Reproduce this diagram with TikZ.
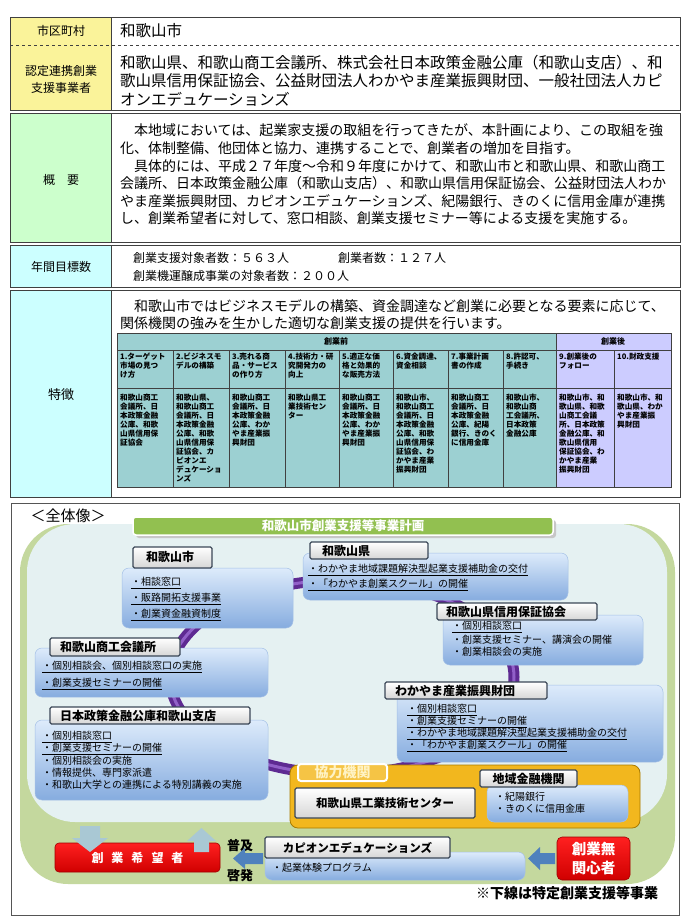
\documentclass[tikz,border=0pt]{standalone}
\usepackage{fontspec}
\setmainfont{Noto Sans CJK JP}
\definecolor{tyellow}{HTML}{FAF39A}
\definecolor{tgreen}{HTML}{CCFFCC}
\definecolor{tcyan}{HTML}{CCFFFF}
\definecolor{tgrid}{HTML}{404040}
\definecolor{cteal}{HTML}{9CD0D2}
\definecolor{clav}{HTML}{CCCCFF}
\definecolor{gregion}{HTML}{C4D89E}
\definecolor{pale}{HTML}{E5F1F2}
\definecolor{tbar}{HTML}{92C050}
\definecolor{ringc}{HTML}{5E2A92}
\definecolor{ringh}{HTML}{9160C8}
\definecolor{boxtop}{HTML}{DDEBFB}
\definecolor{boxbot}{HTML}{86ACDF}
\definecolor{boxedge}{HTML}{A4C0E6}
\definecolor{lblline}{HTML}{3B4757}
\definecolor{lblbot}{HTML}{D6D6D6}
\definecolor{gold}{HTML}{F2B71E}
\definecolor{golddk}{HTML}{A87A00}
\definecolor{goldlb}{HTML}{F5C445}
\definecolor{goldtxt}{HTML}{FFF3C4}
\definecolor{redtop}{HTML}{FF2020}
\definecolor{redbot}{HTML}{D00000}
\definecolor{reddk}{HTML}{A00000}
\definecolor{darr}{HTML}{4F81BD}
\definecolor{larr}{HTML}{A9C8D4}
\definecolor{framec}{HTML}{555555}
\newcommand{\fs}[2]{\fontsize{#1}{#2}\selectfont}
\newcommand{\bx}[7][]{\node[#3,anchor=north west,minimum width={(#6-#4)*1pt},minimum height={(#7-#5)*1pt},inner sep=0pt,outer sep=0pt,#1] (#2) at (#4,#5) {};}
\tikzset{
  cell/.style={draw=tgrid,line width=0.9pt},
  plainbox/.style={},
  txt/.style={inner sep=0pt,outer sep=0pt,text=black},
  cbox/.style={rounded corners=7pt,top color=boxtop,bottom color=boxbot,draw=boxedge,line width=0.5pt},
  lbl/.style={rounded corners=1.5pt,top color=white,bottom color=lblbot,draw=lblline,line width=1.3pt},
  lbltxt/.style={inner sep=0pt,anchor=west,font=\fs{12}{14}\bfseries},
  item/.style={inner sep=0pt,anchor=west,font=\fs{10}{12}},
  rbox/.style={rounded corners=4pt,top color=redtop,bottom color=redbot,draw=reddk,line width=0.6pt},
  tiny/.style={inner sep=0pt,anchor=north west,align=left,font=\fs{7.6}{9}\bfseries},
}
\begin{document}
\begin{tikzpicture}[x=1pt,y=-1pt]
\useasboundingbox (0,0) rectangle (690,920);
\fill[white] (0,0) rectangle (690,920);

% ---------- top table ----------
\bx[fill=tyellow]{aL}{cell}{10}{17}{111}{110}
\bx{aR}{cell}{111}{17}{680}{110}
\draw[dashed,tgrid,line width=0.5pt] (aL.west |- 0,45) -- (aR.east |- 0,45);
\node[txt,font=\fs{12}{15}] (a1) at (61,31) {市区町村};
\node[txt,font=\fs{12}{17},align=center] (a2) at (61,79) {認定連携創業\\支援事業者};
\node[txt,font=\fs{15.5}{18.5},anchor=west] (a3) at (120,31) {和歌山市};
\node[txt,font=\fs{15.5}{18.5},anchor=north west,align=left] (a4) at (120,55) {和歌山県、和歌山商工会議所、株式会社日本政策金融公庫（和歌山支店）、和\\歌山県信用保証協会、公益財団法人わかやま産業振興財団、一般社団法人カピ\\オンエデュケーションズ};

\bx[fill=tgreen]{bL}{cell}{10}{113}{111}{242}
\bx{bR}{cell}{111}{113}{680}{242}
\node[txt,font=\fs{12}{15}] (b1) at (61,180) {概　要};
\node[txt,font=\fs{14}{17.6},anchor=north west,align=left] (b2) at (120,124) {　本地域においては、起業家支援の取組を行ってきたが、本計画により、この取組を強\\化、体制整備、他団体と協力、連携することで、創業者の増加を目指す。\\　具体的には、平成２７年度～令和９年度にかけて、和歌山市と和歌山県、和歌山商工\\会議所、日本政策金融公庫（和歌山支店）、和歌山県信用保証協会、公益財団法人わか\\やま産業振興財団、カピオンエデュケーションズ、紀陽銀行、きのくに信用金庫が連携\\し、創業希望者に対して、窓口相談、創業支援セミナー等による支援を実施する。};

\bx[fill=tcyan]{cL}{cell}{10}{245}{111}{287}
\bx{cR}{cell}{111}{245}{680}{287}
\node[txt,font=\fs{12}{15}] (c1) at (61,267) {年間目標数};
\node[txt,font=\fs{12}{15},anchor=west] (c2) at (133,258) {創業支援対象者数：５６３人};
\node[txt,font=\fs{12}{15},anchor=west] (c3) at (338,258) {創業者数：１２７人};
\node[txt,font=\fs{12}{15},anchor=west] (c4) at (133,276) {創業機運醸成事業の対象者数：２００人};

\bx[fill=tcyan]{dL}{cell}{10}{290}{111}{497}
\bx{dR}{cell}{111}{290}{680}{497}
\node[txt,font=\fs{13}{15}] (d1) at (61,395) {特徴};
\node[txt,font=\fs{14}{17},anchor=west] (d2) at (120,306) {　和歌山市ではビジネスモデルの構築、資金調達など創業に必要となる要素に応じて、};
\node[txt,font=\fs{14}{17},anchor=west] (d3) at (120,323) {関係機関の強みを生かした適切な創業支援の提供を行います。};

% inner table
\fill[cteal] (117,333) rectangle (556,487);
\fill[clav] (556,333) rectangle (671,487);
\draw[tgrid,line width=0.8pt] (117,333) rectangle (671,487);
\draw[tgrid,line width=0.8pt] (117,350) -- (671,350) (117,388) -- (671,388) (556,333) -- (556,487);
\foreach \xx in {173,229,285,339,393,448,503,614} \draw[tgrid,line width=0.8pt] (\xx,350) -- (\xx,487);
\node[txt,font=\fs{8}{9}\bfseries] (h1) at (336,341) {創業前};
\node[txt,font=\fs{8}{9}\bfseries] (h2) at (613,341) {創業後};

\node[tiny] (t1) at (120,353) {1.ターゲット\\市場の見つ\\け方};
\node[tiny] (t2) at (176,353) {2.ビジネスモ\\デルの構築};
\node[tiny] (t3) at (232,353) {3.売れる商\\品・サービス\\の作り方};
\node[tiny] (t4) at (288,353) {4.技術力・研\\究開発力の\\向上};
\node[tiny] (t5) at (342,353) {5.適正な価\\格と効果的\\な販売方法};
\node[tiny] (t6) at (396,353) {6.資金調達、\\資金相談};
\node[tiny] (t7) at (451,353) {7.事業計画\\書の作成};
\node[tiny] (t8) at (506,353) {8.許認可、\\手続き};
\node[tiny] (t9) at (559,353) {9.創業後の\\フォロー};
\node[tiny] (t10) at (617,353) {10.財政支援};

\node[tiny] (g1) at (120,394) {和歌山商工\\会議所、日\\本政策金融\\公庫、和歌\\山県信用保\\証協会};
\node[tiny] (g2) at (176,394) {和歌山県、\\和歌山商工\\会議所、日\\本政策金融\\公庫、和歌\\山県信用保\\証協会、カ\\ピオンエ\\デュケーショ\\ンズ};
\node[tiny] (g3) at (232,394) {和歌山商工\\会議所、日\\本政策金融\\公庫、わか\\やま産業振\\興財団};
\node[tiny] (g4) at (288,394) {和歌山県工\\業技術セン\\ター};
\node[tiny] (g5) at (342,394) {和歌山商工\\会議所、日\\本政策金融\\公庫、わか\\やま産業振\\興財団};
\node[tiny] (g6) at (396,394) {和歌山市、\\和歌山商工\\会議所、日\\本政策金融\\公庫、和歌\\山県信用保\\証協会、わ\\かやま産業\\振興財団};
\node[tiny] (g7) at (451,394) {和歌山商工\\会議所、日\\本政策金融\\公庫、紀陽\\銀行、きのく\\に信用金庫};
\node[tiny] (g8) at (506,394) {和歌山市、\\和歌山商\\工会議所、\\日本政策\\金融公庫};
\node[tiny] (g9) at (559,394) {和歌山市、和\\歌山県、和歌\\山商工会議\\所、日本政策\\金融公庫、和\\歌山県信用\\保証協会、わ\\かやま産業\\振興財団};
\node[tiny] (g10) at (617,394) {和歌山市、和\\歌山県、わか\\やま産業振\\興財団};

% ---------- overall picture ----------
\bx[draw=framec,line width=0.7pt]{frame}{plainbox}{11}{503}{679}{915}
\node[txt,font=\fs{15}{17}] (zt) at (68,516) {＜全体像＞};

\bx[fill=gregion,rounded corners=48pt]{greg}{plainbox}{20}{524}{675}{884}
\bx[fill=pale,rounded corners=48pt]{preg}{plainbox}{27}{524}{667}{822}

\bx[fill=black!22,rounded corners=3pt]{tbs}{plainbox}{136}{520}{556}{538}
\bx[fill=tbar,draw=white,line width=1.5pt,rounded corners=3pt]{tb}{plainbox}{133}{517}{553}{535}
\node[txt,text=white,font=\fs{12.5}{14}\bfseries] (tbt) at (tb.center) {和歌山市創業支援等事業計画};

% ring
\draw[ringc,line width=11pt] (342,677) ellipse [x radius=172pt, y radius=97pt];
\draw[ringh,line width=3pt] (342,677) ellipse [x radius=172pt, y radius=97pt];

% 和歌山市
\bx{c1b}{cbox}{122}{568}{293}{628}
\bx{l1b}{lbl}{133}{547}{212}{568}
\node[lbltxt] (l1t) at (146,557) {和歌山市};
\node[item] (i11) at (131,583) {\underline{・相談窓口}};
\node[item] (i12) at (131,599) {\underline{・販路開拓支援事業}};
\node[item] (i13) at (131,615) {\underline{・創業資金融資制度}};

% 和歌山県
\bx{c2b}{cbox}{303}{553}{568}{600}
\bx{l2b}{lbl}{310}{542}{428}{559}
\node[lbltxt] (l2t) at (322,550.5) {和歌山県};
\node[item] (i21) at (308,570) {\underline{・わかやま地域課題解決型起業支援補助金の交付}};
\node[item] (i22) at (308,585) {\underline{・「わかやま創業スクール」の開催}};

% 和歌山県信用保証協会
\bx{c3b}{cbox}{443}{615}{643}{665}
\bx{l3b}{lbl}{437}{603}{597}{620}
\node[lbltxt] (l3t) at (446,611.5) {和歌山県信用保証協会};
\node[item] (i31) at (452,627) {\underline{・個別相談窓口}};
\node[item] (i32) at (452,639.5) {・創業支援セミナー、講演会の開催};
\node[item] (i33) at (452,652) {・創業相談会の実施};

% 和歌山商工会議所
\bx{c4b}{cbox}{35}{648}{268}{697}
\bx{l4b}{lbl}{50}{638}{180}{656}
\node[lbltxt] (l4t) at (60,647) {和歌山商工会議所};
\node[item] (i41) at (42,667) {\underline{・個別相談会、個別相談窓口の実施}};
\node[item] (i42) at (42,684) {\underline{・創業支援セミナーの開催}};

% 日本政策金融公庫和歌山支店
\bx{c5b}{cbox}{35}{720}{268}{800}
\bx{l5b}{lbl}{50}{707}{250}{724}
\node[lbltxt] (l5t) at (60,715.5) {日本政策金融公庫和歌山支店};
\node[item] (i51) at (42,737) {\underline{・個別相談窓口}};
\node[item] (i52) at (42,749) {\underline{・創業支援セミナーの開催}};
\node[item] (i53) at (42,761) {・個別相談会の実施};
\node[item] (i54) at (42,773) {・情報提供、専門家派遣};
\node[item] (i55) at (42,785) {・和歌山大学との連携による特別講義の実施};

% わかやま産業振興財団
\bx{c6b}{cbox}{397}{685}{663}{762}
\bx{l6b}{lbl}{385}{682}{547}{699}
\node[lbltxt] (l6t) at (395,690.5) {わかやま産業振興財団};
\node[item] (i61) at (407,710) {\underline{・個別相談窓口}};
\node[item] (i62) at (407,722) {\underline{・創業支援セミナーの開催}};
\node[item] (i63) at (407,734) {\underline{・わかやま地域課題解決型起業支援補助金の交付}};
\node[item] (i64) at (407,746) {\underline{・「わかやま創業スクール」の開催}};

% 協力機関
\bx[fill=gold,draw=golddk,line width=0.8pt,rounded corners=8pt]{kb}{plainbox}{290}{765}{640}{828}
\bx[fill=goldlb,draw=white,line width=2pt,rounded corners=3pt]{kl}{plainbox}{298}{764}{387}{781}
\node[txt,text=goldtxt,font=\fs{14}{16}\bfseries] (klt) at (kl.center) {協力機関};
\bx{kc}{lbl}{295}{788}{475}{818}
\node[txt,font=\fs{11.5}{14}\bfseries] (kct) at (kc.center) {和歌山県工業技術センター};
\bx{kfb}{cbox}{487}{785}{628}{822}
\bx{kfl}{lbl}{480}{770}{577}{787}
\node[txt,font=\fs{12}{14}\bfseries] (kflt) at (kfl.center) {地域金融機関};
\node[item] (kf1) at (495,797) {・紀陽銀行};
\node[item] (kf2) at (495,809) {・きのくに信用金庫};

% bottom band
\bx{rb1}{rbox}{55}{843}{220}{872}
\node[txt,text=white,font=\fs{12}{14}\bfseries] (rb1t) at (rb1.center) {創\hspace{8pt}業\hspace{8pt}希\hspace{8pt}望\hspace{8pt}者};
\fill[larr] (80,826) -- (100,826) -- (100,838) -- (108,838) -- (90,852) -- (72,838) -- (80,838) -- cycle;
\fill[larr] (194,852) -- (209,852) -- (209,841) -- (216,841) -- (201.5,828) -- (187,841) -- (194,841) -- cycle;
\node[txt,font=\fs{13}{15}\bfseries] (fk1) at (240,846) {普及};
\node[txt,font=\fs{13}{15}\bfseries] (fk2) at (240,876) {啓発};
\fill[darr] (233,858.5) -- (245,848) -- (245,853) -- (263,853) -- (263,864) -- (245,864) -- (245,869) -- cycle;

\bx{cpb}{cbox}{265}{852}{525}{880}
\bx{cpl}{lbl}{265}{837}{450}{858}
\node[txt,font=\fs{11.5}{14}\bfseries] (cplt) at (cpl.center) {カピオンエデュケーションズ};
\node[item] (cp1) at (272,868) {・起業体験プログラム};
\fill[darr] (528,858.5) -- (540,847) -- (540,853) -- (555,853) -- (555,864) -- (540,864) -- (540,870) -- cycle;

\bx[rounded corners=5pt]{rb2}{rbox}{557}{837}{630}{880}
\node[txt,text=white,font=\fs{14.5}{19}\bfseries,align=center] (rb2t) at (rb2.center) {創業無\\関心者};

\node[txt,font=\fs{14}{16}\bfseries] (fn) at (567,893) {※下線は特定創業支援等事業};
\end{tikzpicture}
\end{document}
